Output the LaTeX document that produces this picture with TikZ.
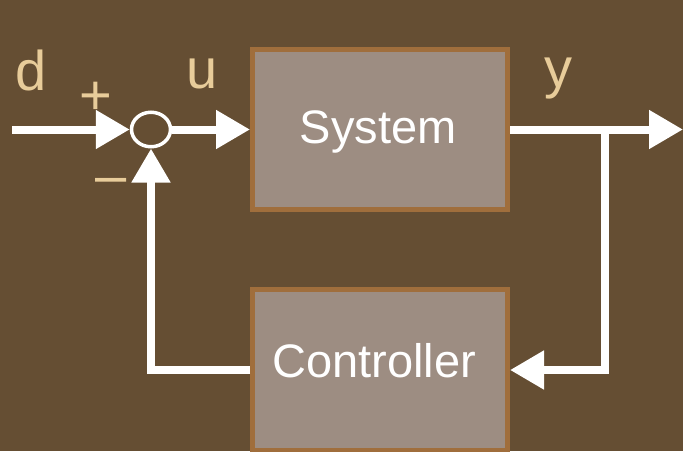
\documentclass[tikz,border=0pt]{standalone}
\usepackage{fontspec}
\setmainfont{Liberation Sans}
\usetikzlibrary{arrows.meta,shapes.geometric}
\definecolor{bgbrown}{HTML}{654E33}
\definecolor{boxfill}{HTML}{9D8D82}
\definecolor{boxedge}{HTML}{A06E3C}
\definecolor{tan}{HTML}{E8CC9A}
\tikzset{
  blockbox/.style={draw=boxedge, fill=boxfill, line width=5pt, rectangle,
    minimum width=255pt, inner sep=0pt, text=white, text height=34pt,
    font=\fontsize{47}{50}\selectfont},
  sumnode/.style={draw=white, line width=3.5pt, ellipse, inner sep=0pt,
    minimum width=39pt, minimum height=34.5pt},
  sig/.style={draw=white, line width=8pt, line join=miter,
    -{Triangle[length=34pt,width=37pt]}},
  lbl/.style={text=tan, anchor=base, inner sep=0pt,
    font=\fontsize{56}{60}\selectfont}
}
\begin{document}
\begin{tikzpicture}[x=1pt,y=-1pt]
\fill[bgbrown] (0,0) rectangle (683,451);
\useasboundingbox (0,0) rectangle (683,451);

\node[blockbox, minimum height=160pt, text depth=7pt] (sys) at (380,129.5) {System\hspace*{4pt}};
\node[blockbox, minimum height=161pt, text depth=20pt] (ctrl) at (380,370) {Controller\hspace*{12pt}};
\node[sumnode] (sum) at (151,129.5) {};

\coordinate (in) at (12,129.5);
\coordinate (out) at (683,129.5);
\coordinate (br) at (605,129.5);

\draw[sig] (in) -- (sum.west);
\draw[sig] (sum.east) -- (sys.west);
\draw[sig] (sys.east) -- (out);
\draw[sig] (br) |- (ctrl.east);
\draw[sig] (ctrl.west) -| (sum.south);

\node[lbl] (ld) at (31,90) {d};
\node[lbl] (lu) at (202,88) {u};
\node[lbl] (ly) at (558,87) {y};
\node[lbl] (lp) at (96,114) {+};
\node[lbl] (lm) at (111,194.5) {–};
\end{tikzpicture}
\end{document}
